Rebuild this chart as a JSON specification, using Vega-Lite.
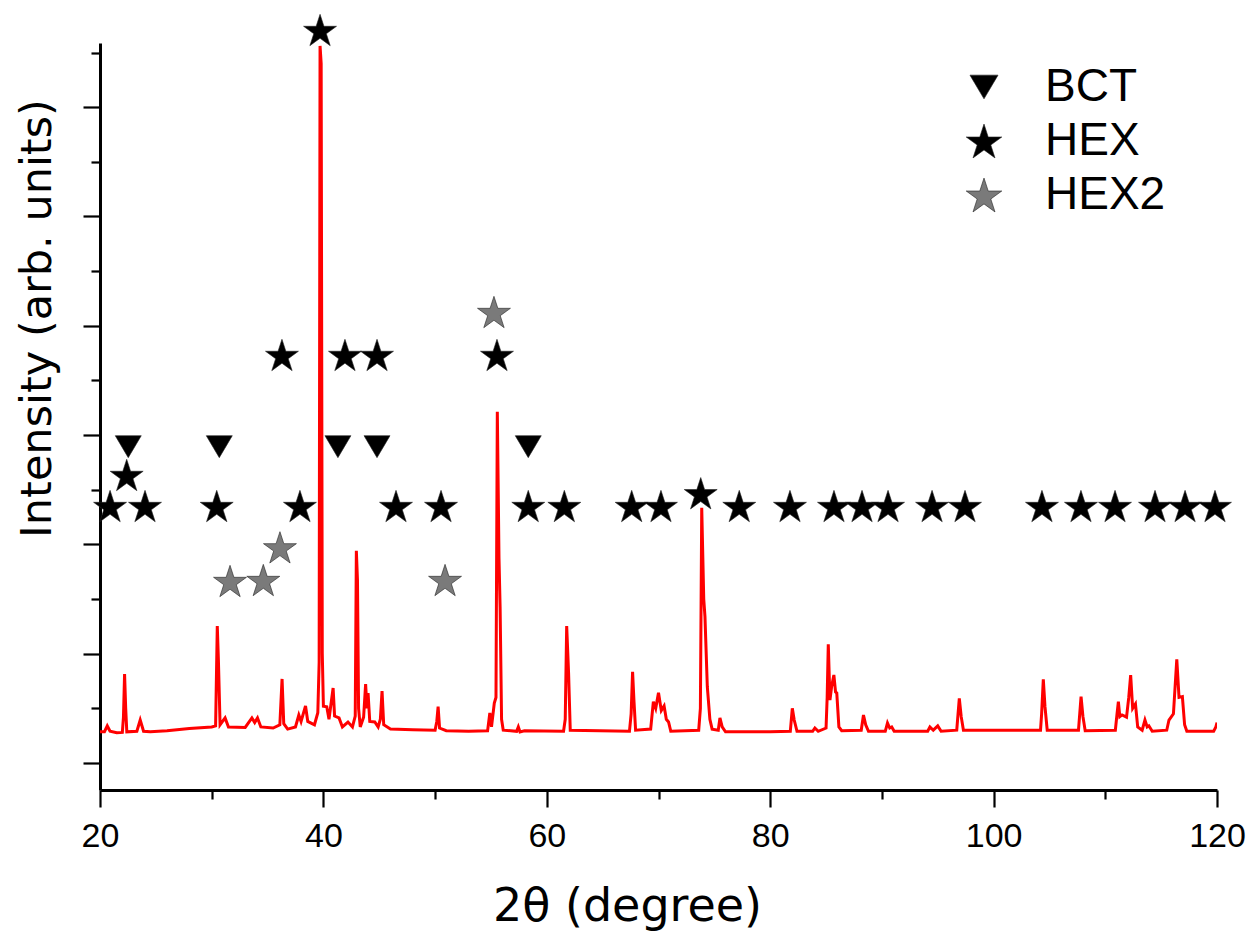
{
  "$schema": "https://vega.github.io/schema/vega-lite/v6.json",
  "width": 1117,
  "height": 747,
  "autosize": {"type": "none"},
  "padding": {"left": 100, "top": 43, "right": 38, "bottom": 144},
  "background": "white",
  "config": {
    "view": {"stroke": null},
    "axis": {"grid": false}
  },
  "datasets": {
    "spectrum": [
      {"t": 20.0, "i": 286}, {"t": 20.4, "i": 286}, {"t": 20.65, "i": 339}, {"t": 20.9, "i": 290},
      {"t": 21.5, "i": 276}, {"t": 22.0, "i": 280}, {"t": 22.1, "i": 420}, {"t": 22.2, "i": 814},
      {"t": 22.3, "i": 500}, {"t": 22.4, "i": 285}, {"t": 23.3, "i": 290}, {"t": 23.6, "i": 393},
      {"t": 23.9, "i": 290}, {"t": 24.5, "i": 285}, {"t": 26.0, "i": 295}, {"t": 28.0, "i": 315},
      {"t": 30.0, "i": 330}, {"t": 30.35, "i": 340}, {"t": 30.5, "i": 1253}, {"t": 30.6, "i": 942},
      {"t": 30.75, "i": 350}, {"t": 31.2, "i": 412}, {"t": 31.5, "i": 330}, {"t": 33.0, "i": 325},
      {"t": 33.6, "i": 412}, {"t": 33.85, "i": 370}, {"t": 34.1, "i": 412}, {"t": 34.4, "i": 330},
      {"t": 35.5, "i": 320}, {"t": 36.1, "i": 350}, {"t": 36.3, "i": 769}, {"t": 36.45, "i": 360},
      {"t": 36.8, "i": 310}, {"t": 37.5, "i": 330}, {"t": 37.8, "i": 439}, {"t": 38.0, "i": 380},
      {"t": 38.4, "i": 522}, {"t": 38.6, "i": 380}, {"t": 39.2, "i": 350}, {"t": 39.5, "i": 460},
      {"t": 39.62, "i": 924}, {"t": 39.7, "i": 6560}, {"t": 39.8, "i": 6400}, {"t": 39.9, "i": 1000},
      {"t": 40.0, "i": 520}, {"t": 40.3, "i": 515}, {"t": 40.5, "i": 400}, {"t": 40.87, "i": 686},
      {"t": 41.0, "i": 430}, {"t": 41.4, "i": 412}, {"t": 41.7, "i": 330}, {"t": 42.2, "i": 375},
      {"t": 42.6, "i": 330}, {"t": 42.85, "i": 430}, {"t": 42.95, "i": 1942}, {"t": 43.05, "i": 1674},
      {"t": 43.15, "i": 500}, {"t": 43.3, "i": 330}, {"t": 43.6, "i": 420}, {"t": 43.78, "i": 723},
      {"t": 43.9, "i": 500}, {"t": 44.0, "i": 640}, {"t": 44.15, "i": 380}, {"t": 44.6, "i": 375},
      {"t": 44.9, "i": 330}, {"t": 45.1, "i": 400}, {"t": 45.25, "i": 659}, {"t": 45.4, "i": 350},
      {"t": 46.0, "i": 311}, {"t": 48.0, "i": 305}, {"t": 50.0, "i": 300}, {"t": 50.15, "i": 380},
      {"t": 50.27, "i": 515}, {"t": 50.4, "i": 320}, {"t": 51.0, "i": 295}, {"t": 53.0, "i": 290},
      {"t": 54.7, "i": 295}, {"t": 54.9, "i": 457}, {"t": 55.05, "i": 330}, {"t": 55.3, "i": 549},
      {"t": 55.45, "i": 600}, {"t": 55.57, "i": 3214}, {"t": 55.72, "i": 1876}, {"t": 55.82, "i": 1427},
      {"t": 55.95, "i": 400}, {"t": 56.1, "i": 300}, {"t": 57.3, "i": 290}, {"t": 57.45, "i": 330},
      {"t": 57.6, "i": 285}, {"t": 58.0, "i": 295}, {"t": 61.5, "i": 290}, {"t": 61.65, "i": 400},
      {"t": 61.78, "i": 1253}, {"t": 61.95, "i": 823}, {"t": 62.1, "i": 300}, {"t": 67.4, "i": 290},
      {"t": 67.55, "i": 450}, {"t": 67.68, "i": 835}, {"t": 67.8, "i": 576}, {"t": 67.95, "i": 300},
      {"t": 69.3, "i": 310}, {"t": 69.54, "i": 561}, {"t": 69.75, "i": 500}, {"t": 70.0, "i": 643},
      {"t": 70.25, "i": 480}, {"t": 70.5, "i": 522}, {"t": 70.7, "i": 400}, {"t": 70.9, "i": 375},
      {"t": 71.1, "i": 290}, {"t": 73.6, "i": 300}, {"t": 73.75, "i": 500}, {"t": 73.87, "i": 2336},
      {"t": 74.05, "i": 1500}, {"t": 74.16, "i": 1339}, {"t": 74.37, "i": 698}, {"t": 74.6, "i": 400},
      {"t": 74.8, "i": 310}, {"t": 75.35, "i": 300}, {"t": 75.5, "i": 412}, {"t": 75.7, "i": 330},
      {"t": 76.0, "i": 285}, {"t": 80.0, "i": 285}, {"t": 81.8, "i": 290}, {"t": 81.98, "i": 500},
      {"t": 82.15, "i": 393}, {"t": 82.4, "i": 290}, {"t": 83.8, "i": 290}, {"t": 84.0, "i": 320},
      {"t": 84.3, "i": 290}, {"t": 85.0, "i": 320}, {"t": 85.1, "i": 600}, {"t": 85.2, "i": 1086},
      {"t": 85.35, "i": 576}, {"t": 85.5, "i": 700}, {"t": 85.7, "i": 805}, {"t": 85.85, "i": 650},
      {"t": 85.96, "i": 640}, {"t": 86.15, "i": 330}, {"t": 86.4, "i": 295}, {"t": 88.15, "i": 300},
      {"t": 88.35, "i": 439}, {"t": 88.55, "i": 350}, {"t": 88.8, "i": 290}, {"t": 90.3, "i": 290},
      {"t": 90.5, "i": 366}, {"t": 90.7, "i": 320}, {"t": 90.88, "i": 330}, {"t": 91.1, "i": 290},
      {"t": 94.1, "i": 290}, {"t": 94.3, "i": 330}, {"t": 94.6, "i": 300}, {"t": 95.0, "i": 339},
      {"t": 95.3, "i": 290}, {"t": 96.7, "i": 300}, {"t": 96.93, "i": 592}, {"t": 97.1, "i": 424},
      {"t": 97.3, "i": 300}, {"t": 104.2, "i": 300}, {"t": 104.3, "i": 450}, {"t": 104.45, "i": 766},
      {"t": 104.6, "i": 515}, {"t": 104.8, "i": 300}, {"t": 107.6, "i": 300}, {"t": 107.83, "i": 607},
      {"t": 108.0, "i": 424}, {"t": 108.2, "i": 295}, {"t": 110.9, "i": 300}, {"t": 111.05, "i": 450},
      {"t": 111.17, "i": 561}, {"t": 111.3, "i": 424}, {"t": 111.5, "i": 440}, {"t": 111.9, "i": 420},
      {"t": 112.1, "i": 600}, {"t": 112.27, "i": 805}, {"t": 112.45, "i": 500}, {"t": 112.7, "i": 540},
      {"t": 112.9, "i": 330}, {"t": 113.3, "i": 300}, {"t": 113.55, "i": 393}, {"t": 113.75, "i": 330},
      {"t": 113.9, "i": 340}, {"t": 114.2, "i": 290}, {"t": 115.5, "i": 300}, {"t": 115.7, "i": 393},
      {"t": 116.1, "i": 450}, {"t": 116.4, "i": 949}, {"t": 116.6, "i": 600}, {"t": 116.9, "i": 607},
      {"t": 117.1, "i": 350}, {"t": 117.3, "i": 290}, {"t": 119.7, "i": 290}, {"t": 119.9, "i": 330},
      {"t": 120.0, "i": 370}
    ],
    "markers": [
      {"t": 20.9, "v": 2351, "phase": "HEX"}, {"t": 24.03, "v": 2351, "phase": "HEX"},
      {"t": 30.45, "v": 2351, "phase": "HEX"}, {"t": 37.9, "v": 2351, "phase": "HEX"},
      {"t": 46.5, "v": 2351, "phase": "HEX"}, {"t": 50.53, "v": 2351, "phase": "HEX"},
      {"t": 58.34, "v": 2351, "phase": "HEX"}, {"t": 61.57, "v": 2351, "phase": "HEX"},
      {"t": 67.6, "v": 2351, "phase": "HEX"}, {"t": 70.22, "v": 2351, "phase": "HEX"},
      {"t": 77.23, "v": 2351, "phase": "HEX"}, {"t": 81.77, "v": 2351, "phase": "HEX"},
      {"t": 85.71, "v": 2351, "phase": "HEX"}, {"t": 88.22, "v": 2351, "phase": "HEX"},
      {"t": 90.55, "v": 2351, "phase": "HEX"}, {"t": 94.49, "v": 2351, "phase": "HEX"},
      {"t": 97.44, "v": 2351, "phase": "HEX"}, {"t": 104.33, "v": 2351, "phase": "HEX"},
      {"t": 107.82, "v": 2351, "phase": "HEX"}, {"t": 110.87, "v": 2351, "phase": "HEX"},
      {"t": 114.45, "v": 2351, "phase": "HEX"}, {"t": 117.14, "v": 2351, "phase": "HEX"},
      {"t": 119.82, "v": 2351, "phase": "HEX"},
      {"t": 22.39, "v": 2635, "phase": "HEX"}, {"t": 36.29, "v": 3733, "phase": "HEX"},
      {"t": 41.93, "v": 3733, "phase": "HEX"}, {"t": 44.8, "v": 3733, "phase": "HEX"},
      {"t": 55.54, "v": 3733, "phase": "HEX"}, {"t": 39.7, "v": 6706, "phase": "HEX"},
      {"t": 73.78, "v": 2468, "phase": "HEX"},
      {"t": 22.53, "v": 2894, "phase": "BCT"}, {"t": 30.68, "v": 2894, "phase": "BCT"},
      {"t": 41.3, "v": 2894, "phase": "BCT"}, {"t": 44.8, "v": 2894, "phase": "BCT"},
      {"t": 58.34, "v": 2894, "phase": "BCT"},
      {"t": 31.64, "v": 1665, "phase": "HEX2"}, {"t": 34.62, "v": 1674, "phase": "HEX2"},
      {"t": 36.11, "v": 1973, "phase": "HEX2"}, {"t": 50.89, "v": 1674, "phase": "HEX2"},
      {"t": 55.27, "v": 4126, "phase": "HEX2"}
    ]
  },
  "layer": [
    {
      "data": {"name": "spectrum"},
      "mark": {"type": "line", "color": "#ff0000", "strokeWidth": 3, "clip": true},
      "encoding": {
        "x": {
          "field": "t", "type": "quantitative",
          "scale": {"domain": [20, 120], "nice": false, "zero": false},
          "axis": {
            "values": [20, 30, 40, 50, 60, 70, 80, 90, 100, 110, 120],
            "labelExpr": "datum.value % 20 === 0 ? datum.label : ''",
            "tickSize": {"condition": {"test": "datum.value % 20 === 0", "value": 17}, "value": 9},
            "tickWidth": 2.2, "tickColor": "black",
            "domainWidth": 3, "domainColor": "black",
            "labelFont": "Liberation Sans", "labelFontSize": 34, "labelColor": "black",
            "labelPadding": 12, "labelFlush": false, "labelOverlap": false,
            "title": "2θ (degree)", "titleFont": "DejaVu Sans", "titleFontSize": 46,
            "titleFontWeight": "normal", "titleColor": "black", "titlePadding": 31,
            "titleX": 527
          }
        },
        "y": {
          "field": "i", "type": "quantitative",
          "scale": {"domain": [-247, 6587], "nice": false, "zero": false},
          "axis": {
            "values": [0, 500, 1000, 1500, 2000, 2500, 3000, 3500, 4000, 4500, 5000, 5500, 6000, 6500],
            "labels": false,
            "tickSize": {"condition": {"test": "datum.value % 1000 === 0", "value": 17}, "value": 9},
            "tickWidth": 2.2, "tickColor": "black",
            "domainWidth": 3, "domainColor": "black",
            "title": "Intensity (arb. units)", "titleFont": "DejaVu Sans", "titleFontSize": 43,
            "titleFontWeight": "normal", "titleColor": "black", "titlePadding": 22,
            "titleY": 275
          }
        }
      }
    },
    {
      "data": {"name": "markers"},
      "mark": {"type": "point", "filled": true, "size": 1200, "opacity": 1, "stroke": "#222222", "strokeWidth": 0.6},
      "encoding": {
        "x": {"field": "t", "type": "quantitative"},
        "y": {"field": "v", "type": "quantitative"},
        "shape": {
          "field": "phase", "type": "nominal",
          "scale": {
            "domain": ["BCT", "HEX", "HEX2"],
            "range": [
              "M-0.75,-0.634L0.75,-0.634L0,0.634Z",
              "M0,-0.9045L0.2245,-0.2135L0.9511,-0.2135L0.3633,0.2135L0.5878,0.9045L0,0.4775L-0.5878,0.9045L-0.3633,0.2135L-0.9511,-0.2135L-0.2245,-0.2135Z",
              "M0,-0.9045L0.2245,-0.2135L0.9511,-0.2135L0.3633,0.2135L0.5878,0.9045L0,0.4775L-0.5878,0.9045L-0.3633,0.2135L-0.9511,-0.2135L-0.2245,-0.2135Z"
            ]
          },
          "legend": {
            "title": null, "orient": "none", "legendX": 861, "legendY": 21,
            "padding": 0, "symbolSize": 1400, "labelFont": "Liberation Sans",
            "labelFontSize": 46, "labelColor": "black", "labelOffset": 38, "rowPadding": 8,
            "symbolStrokeWidth": 0.6
          }
        },
        "color": {
          "field": "phase", "type": "nominal",
          "scale": {"domain": ["BCT", "HEX", "HEX2"], "range": ["#000000", "#000000", "#7a7a7a"]},
          "legend": {
            "title": null, "orient": "none", "legendX": 861, "legendY": 21,
            "padding": 0, "symbolSize": 1400, "labelFont": "Liberation Sans",
            "labelFontSize": 46, "labelColor": "black", "labelOffset": 38, "rowPadding": 8,
            "symbolStrokeWidth": 0.6
          }
        }
      }
    }
  ],
  "resolve": {"scale": {"x": "shared", "y": "shared"}}
}
